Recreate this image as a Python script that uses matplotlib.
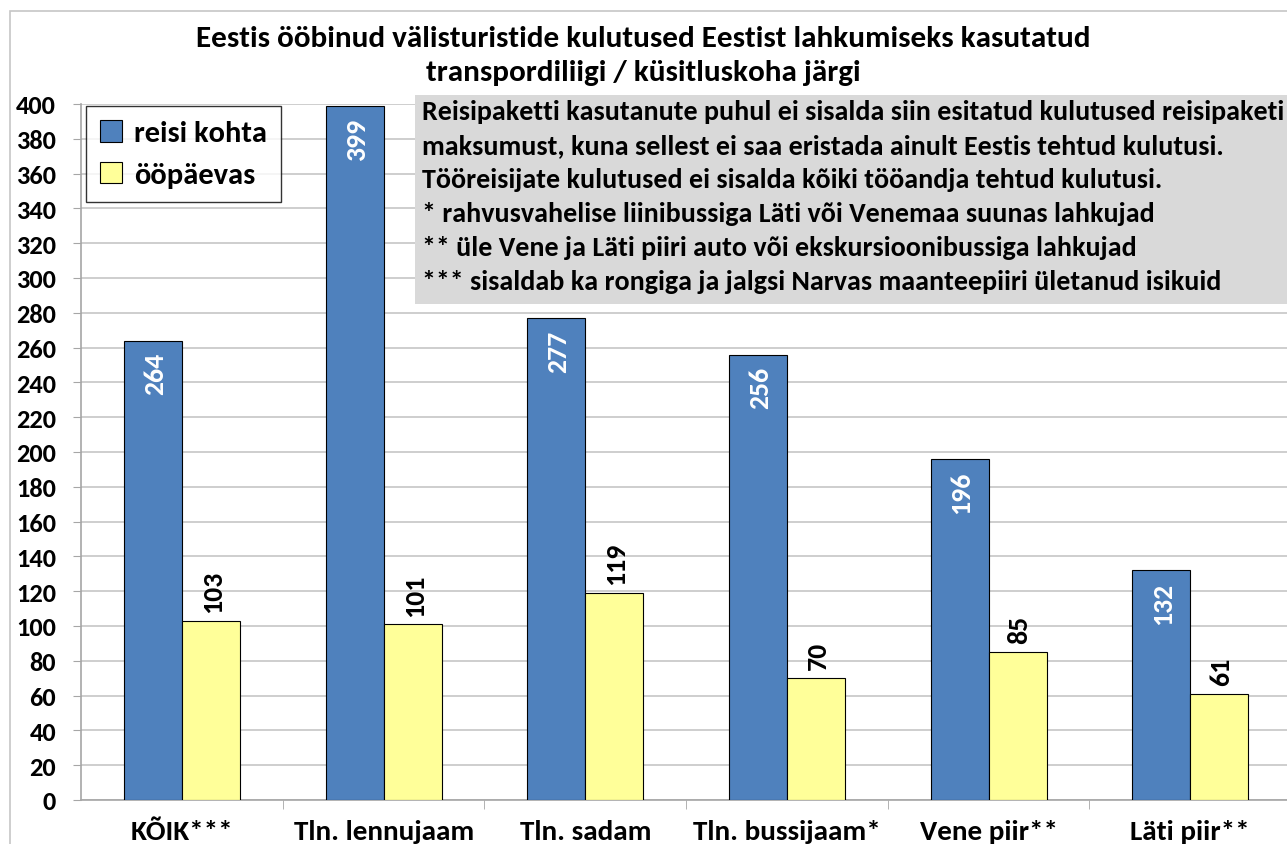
import numpy as np
import matplotlib
matplotlib.use("Agg")
import matplotlib.pyplot as plt

plt.rcParams['font.family'] = ['Carlito', 'DejaVu Sans']
plt.rcParams['font.weight'] = 'bold'

categories = ['KÕIK***', 'Tln. lennujaam', 'Tln. sadam', 'Tln. bussijaam*', 'Vene piir**', 'Läti piir**']
reisi_kohta = [264, 399, 277, 256, 196, 132]
oopaevas = [103, 101, 119, 70, 85, 61]
title = 'Eestis ööbinud välisturistide kulutused Eestist lahkumiseks kasutatud\ntranspordiliigi / küsitluskoha järgi'
note = ('Reisipaketti kasutanute puhul ei sisalda siin esitatud kulutused reisipaketi\n'
        'maksumust, kuna sellest ei saa eristada ainult Eestis tehtud kulutusi.\n'
        'Tööreisijate kulutused ei sisalda kõiki tööandja tehtud kulutusi.\n'
        '* rahvusvahelise liinibussiga Läti või Venemaa suunas lahkujad\n'
        '** üle Vene ja Läti piiri auto või ekskursioonibussiga lahkujad\n'
        '*** sisaldab ka rongiga ja jalgsi Narvas maanteepiiri ületanud isikuid')

fig = plt.figure(figsize=(12.87, 8.45), dpi=100)
ax = fig.add_axes([0.0631, 0.0521, 0.940, 0.8237])

x = np.arange(len(categories))
w = 0.2875
b1 = ax.bar(x - w / 2, reisi_kohta, w, color='#4F81BD', edgecolor='black', linewidth=0.8, label='reisi kohta', zorder=3)
b2 = ax.bar(x + w / 2, oopaevas, w, color='#FFFF99', edgecolor='black', linewidth=0.8, label='ööpäevas', zorder=3)

for rect, v in zip(b1, reisi_kohta):
    ax.text(rect.get_x() + rect.get_width() / 2 + 0.01, v - 6.5, str(v), rotation=90, ha='center', va='top',
            color='white', fontsize=20, fontweight='bold', zorder=4)
for rect, v in zip(b2, oopaevas):
    ax.text(rect.get_x() + rect.get_width() / 2 + 0.01, v + 5, str(v), rotation=90, ha='center', va='bottom',
            color='black', fontsize=20, fontweight='bold', zorder=4)

ax.set_xlim(-0.5, len(categories) - 0.5)
ax.set_ylim(0, 400)
ax.set_yticks(np.arange(0, 401, 20))
ax.tick_params(axis='y', labelsize=19, length=6, color='#A6A6A6', pad=12)
ax.set_xticks(x)
ax.set_xticklabels(categories, fontsize=21, fontweight='bold')
ax.set_xticks(np.arange(0.5, len(categories) - 0.5, 1), minor=True)
ax.tick_params(axis='x', which='major', length=0, pad=14)
ax.tick_params(axis='x', which='minor', length=6.5, color='#A6A6A6')
for lab in ax.get_yticklabels():
    lab.set_fontweight('bold')
ax.grid(axis='y', color='#C6C6C6', linewidth=1.2, zorder=0)
for s in ['top', 'right']:
    ax.spines[s].set_visible(False)
ax.spines['left'].set_color('#A6A6A6')
ax.spines['bottom'].set_color('#A6A6A6')
ax.spines['left'].set_linewidth(1.2)
ax.spines['bottom'].set_linewidth(1.2)

leg = fig.legend(handles=[b1, b2], loc='upper left', bbox_to_anchor=(86 / 1287, 1 - 107 / 845),
                 bbox_transform=fig.transFigure, fontsize=22, frameon=True,
                 fancybox=False, edgecolor='black', handlelength=0.72, handleheight=0.72,
                 borderpad=0.45, labelspacing=0.5, handletextpad=0.4, borderaxespad=0)
leg.get_frame().set_linewidth(1)
for t in leg.get_texts():
    t.set_fontweight('bold')

# grey note box
fig.patches.append(plt.Rectangle((415 / 1287, 1 - 305 / 845), 1 - 415 / 1287, (305 - 96) / 845,
                                 transform=fig.transFigure, facecolor='#D9D9D9', edgecolor='none', zorder=5))
fig.text(422 / 1287, 1 - 100 / 845, note, ha='left', va='top', fontsize=20.2, fontweight='bold',
         linespacing=1.5, zorder=6)

fig.text(0.5, 1 - 26 / 845, title, ha='center', va='top', fontsize=22.4, fontweight='bold', linespacing=1.38)

fig.patches.append(plt.Rectangle((10 / 1287, -0.01), 1.0, 1 - 12 / 845 + 0.01, transform=fig.transFigure,
                                 fill=False, edgecolor='#C6C6C6', linewidth=1.2, zorder=0))

fig.savefig('out.png', dpi=100)
